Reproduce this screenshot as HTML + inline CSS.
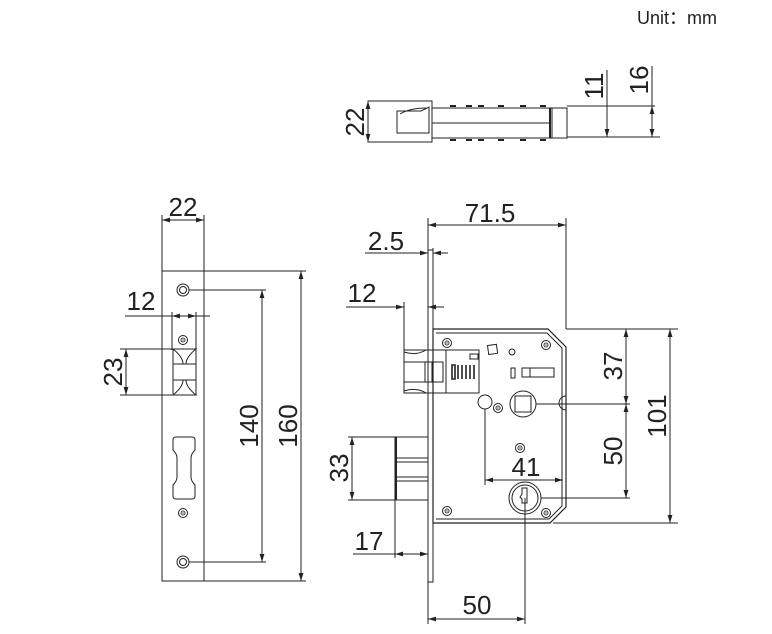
<!DOCTYPE html>
<html><head><meta charset="utf-8"><style>
html,body{margin:0;padding:0;background:#fff;}
svg{display:block;}
text{font-family:"Liberation Sans","Noto Sans CJK SC",sans-serif;fill:#222;}
</style></head><body>
<svg width="772" height="634" viewBox="0 0 772 634" xmlns="http://www.w3.org/2000/svg">
<defs>
<marker id="a" viewBox="0 0 10 6" refX="10" refY="3" markerWidth="8" markerHeight="5" orient="auto-start-reverse"><path d="M0,0L10,3L0,6z" fill="#222"/></marker>
<g id="scr"><circle r="4.5" fill="none" stroke="#222" stroke-width="1"/><circle r="2.5" fill="#444"/><path d="M-2,0H2M0,-2V2" stroke="#fff" stroke-width="0.8"/></g>
</defs>
<text x="637" y="24" font-size="18" fill="#333">Unit：mm</text>
<g stroke="#222" stroke-width="1" fill="none">
<!-- TOP VIEW -->
<rect x="368" y="101" width="64" height="41"/>
<path d="M397,111h24l8,-4v26h-32z"/>
<path d="M400,114q10,-6 26,-6"/>
<rect x="432" y="108" width="135" height="30"/>
<line x1="432" y1="123" x2="550" y2="123"/>
<line x1="550" y1="108" x2="550" y2="138" stroke-width="2"/>
<line x1="552" y1="108" x2="552" y2="138"/>
<path d="M450,106h6M466,106h6M478,106h6M498,106h6M520,106h6M540,106h6M450,140h6M466,140h6M478,140h6M498,140h6M520,140h6M540,140h6" stroke-width="2"/>
<line x1="567" y1="106" x2="612" y2="106"/><line x1="567" y1="137" x2="660" y2="137"/>
<line x1="612" y1="106" x2="655" y2="106"/>
<line x1="607" y1="70" x2="607" y2="137" marker-end="url(#a)"/>
<line x1="607" y1="118" x2="607" y2="106" />
<line x1="652" y1="66" x2="652" y2="137" marker-end="url(#a)"/>
<line x1="652" y1="118" x2="652" y2="106" marker-end="url(#a)"/>
<line x1="368" y1="101" x2="368" y2="142" marker-start="url(#a)" marker-end="url(#a)"/>
<!-- FRONT FACEPLATE -->
<rect x="162" y="271" width="42" height="310"/>
<line x1="162" y1="215" x2="162" y2="271"/><line x1="204" y1="215" x2="204" y2="271"/>
<line x1="162" y1="220" x2="204" y2="220" marker-start="url(#a)" marker-end="url(#a)"/>
<line x1="204" y1="271" x2="306" y2="271"/><line x1="204" y1="581" x2="306" y2="581"/>
<line x1="301" y1="271" x2="301" y2="581" marker-start="url(#a)" marker-end="url(#a)"/>
<circle cx="183" cy="290" r="6"/><circle cx="183" cy="290" r="3.5"/>
<circle cx="183" cy="562" r="6"/><circle cx="183" cy="562" r="3.5"/>
<line x1="189" y1="290" x2="266" y2="290"/><line x1="189" y1="562" x2="266" y2="562"/>
<line x1="262" y1="290" x2="262" y2="562" marker-start="url(#a)" marker-end="url(#a)"/>
<line x1="172" y1="312" x2="172" y2="350"/><line x1="196" y1="312" x2="196" y2="350"/>
<line x1="125" y1="316" x2="210" y2="316"/>
<line x1="172" y1="316" x2="196" y2="316" marker-start="url(#a)" marker-end="url(#a)"/>
<path d="M173,349h23q-10,8 -10,15h-3q0,-7 -10,-15z"/>
<path d="M173,395h23q-10,-8 -10,-15h-3q0,7 -10,15z"/>
<rect x="173" y="364" width="23" height="16"/>
<line x1="173" y1="349" x2="173" y2="395"/><line x1="196" y1="349" x2="196" y2="395"/>
<line x1="120" y1="349" x2="172" y2="349"/><line x1="120" y1="395" x2="172" y2="395"/>
<line x1="126" y1="349" x2="126" y2="395" marker-start="url(#a)" marker-end="url(#a)"/>
<path d="M176,437h16q3,0 3,3v10q-4,4 -4,8v19q0,4 4,8v11q0,3 -3,3h-16q-3,0 -3,-3v-11q4,-4 4,-8v-19q0,-4 -4,-8v-10q0,-3 3,-3z"/>
<!-- SIDE VIEW -->
<path d="M428,250h5v332h-5z"/>
<line x1="428" y1="218" x2="428" y2="250"/><line x1="566" y1="218" x2="566" y2="329"/>
<line x1="428" y1="225" x2="566" y2="225" marker-start="url(#a)" marker-end="url(#a)"/>
<line x1="433" y1="248" x2="433" y2="270"/>
<line x1="365" y1="253" x2="428" y2="253" marker-end="url(#a)"/>
<line x1="448" y1="253" x2="433" y2="253" marker-end="url(#a)"/>
<line x1="404" y1="302" x2="404" y2="350"/>
<line x1="346" y1="307" x2="404" y2="307" marker-end="url(#a)"/>
<line x1="444" y1="307" x2="428" y2="307" marker-end="url(#a)"/>
<path d="M433,329h115l18,18v160l-16,16h-117z" stroke-width="1.2"/>
<path d="M436,333h111l15,15v158l-13,13h-113"/>
<path d="M566,396a6,6 0 0 0 0,14"/>
<!-- latch -->
<path d="M404,350h42v43h-42z"/>
<path d="M404,352q12,4 22,-2M404,391q12,-4 22,2"/>
<rect x="404" y="362" width="39" height="20"/>
<line x1="425" y1="362" x2="425" y2="382"/><line x1="432" y1="362" x2="432" y2="382"/>
<rect x="446" y="350" width="33" height="43"/>
<path d="M452,365l3,0v14h-3zM458,365l0,14M462,365l0,14M466,365l0,14M470,365l0,14M474,365l0,14" stroke-width="1.6"/>
<rect x="470" y="354" width="8" height="5"/><rect x="488" y="345" width="9" height="9" transform="rotate(-8 492 349)"/>
<circle cx="512" cy="352" r="3"/>
<rect x="511" y="368" width="4" height="10"/>
<rect x="522" y="368" width="32" height="9"/><line x1="530" y1="368" x2="530" y2="377"/>
<circle cx="485" cy="402" r="7"/>
<line x1="485" y1="409" x2="485" y2="485"/>
<circle cx="523" cy="404" r="13"/><rect x="515" y="396" width="16" height="16"/>
<line x1="536" y1="404" x2="630" y2="404"/>
<circle cx="525" cy="498" r="16"/><circle cx="525" cy="498" r="13"/>
<path d="M522,488h5v15h-5v-4l-2,-2l2,-3z"/>
<line x1="525" y1="498" x2="525" y2="624"/>
<line x1="541" y1="498" x2="630" y2="498"/>
<line x1="566" y1="329" x2="678" y2="329"/><line x1="553" y1="523" x2="678" y2="523"/>
<line x1="485" y1="480" x2="563" y2="480" marker-start="url(#a)" marker-end="url(#a)"/>
<line x1="626" y1="329" x2="626" y2="404" marker-start="url(#a)" marker-end="url(#a)"/>
<line x1="626" y1="404" x2="626" y2="498" marker-start="url(#a)" marker-end="url(#a)"/>
<line x1="670" y1="329" x2="670" y2="523" marker-start="url(#a)" marker-end="url(#a)"/>
<!-- deadbolt -->
<rect x="395" y="437" width="33" height="63"/>
<line x1="396" y1="437" x2="396" y2="500" stroke-width="2"/>
<path d="M395,458h33M395,462h33M395,477h33M395,481h33"/>
<line x1="348" y1="437" x2="395" y2="437"/><line x1="348" y1="500" x2="395" y2="500"/>
<line x1="352" y1="437" x2="352" y2="500" marker-start="url(#a)" marker-end="url(#a)"/>
<line x1="395" y1="500" x2="395" y2="558"/>
<line x1="353" y1="554" x2="395" y2="554"/>
<line x1="395" y1="554" x2="428" y2="554" marker-start="url(#a)" marker-end="url(#a)"/>
<line x1="428" y1="582" x2="428" y2="624"/>
<line x1="428" y1="619" x2="525" y2="619" marker-start="url(#a)" marker-end="url(#a)"/>
</g>
<use href="#scr" x="183" y="340"/><use href="#scr" x="183" y="513"/>
<use href="#scr" x="447" y="343"/><use href="#scr" x="546" y="345"/>
<use href="#scr" x="498" y="408"/><use href="#scr" x="520" y="448"/>
<use href="#scr" x="447" y="511"/><use href="#scr" x="546" y="513"/>
<g font-size="26">
<text x="183" y="216" text-anchor="middle">22</text>
<text x="141" y="310" text-anchor="middle">12</text>
<text transform="translate(122,372) rotate(-90)" text-anchor="middle">23</text>
<text transform="translate(258,426) rotate(-90)" text-anchor="middle">140</text>
<text transform="translate(297,426) rotate(-90)" text-anchor="middle">160</text>
<text transform="translate(364,122) rotate(-90)" text-anchor="middle">22</text>
<text transform="translate(603,86) rotate(-90)" text-anchor="middle">11</text>
<text transform="translate(648,80) rotate(-90)" text-anchor="middle">16</text>
<text x="490" y="222" text-anchor="middle">71.5</text>
<text x="386" y="250" text-anchor="middle">2.5</text>
<text x="362" y="302" text-anchor="middle">12</text>
<text transform="translate(348,468) rotate(-90)" text-anchor="middle">33</text>
<text x="369" y="550" text-anchor="middle">17</text>
<text x="477" y="614" text-anchor="middle">50</text>
<text x="526" y="476" text-anchor="middle">41</text>
<text transform="translate(622,366) rotate(-90)" text-anchor="middle">37</text>
<text transform="translate(622,451) rotate(-90)" text-anchor="middle">50</text>
<text transform="translate(666,416) rotate(-90)" text-anchor="middle">101</text>
</g>
</svg>
</body></html>
